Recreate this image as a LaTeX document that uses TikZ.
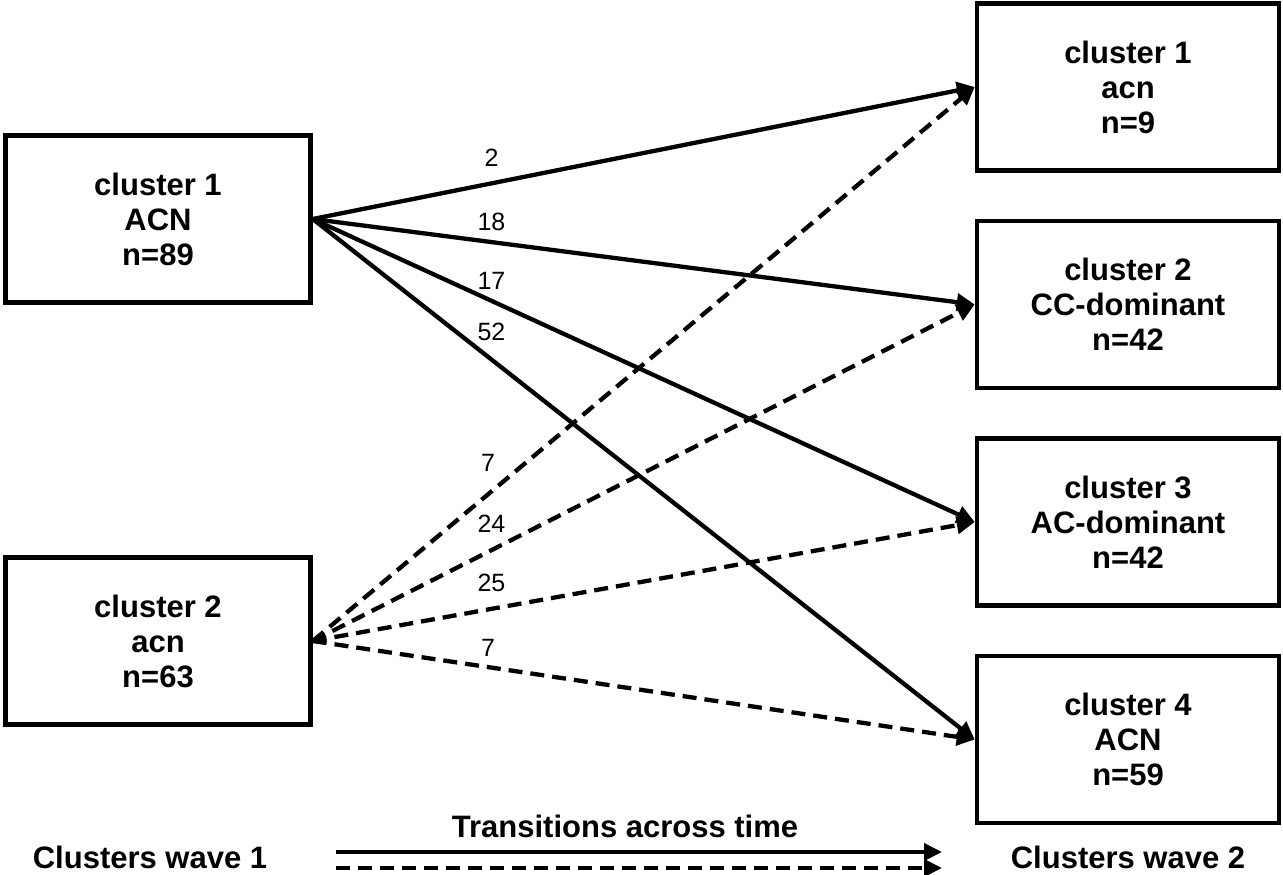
\documentclass[tikz,border=0pt]{standalone}
\usepackage{fontspec}
\setmainfont{Liberation Sans}
\usetikzlibrary{arrows.meta,positioning}
\tikzset{
	clbox/.style={draw,line width=4.5pt,minimum width=302pt,minimum height=167pt,align=center,font=\bfseries\fontsize{31}{35}\selectfont},
	trans/.style={line width=4.3pt,-{Triangle[length=18pt,width=17pt]}},
	transd/.style={trans,dash pattern=on 14pt off 8pt},
	nlbl/.style={font=\fontsize{25}{28}\selectfont,pos=.27},
	wave/.style={font=\bfseries\fontsize{31}{35}\selectfont,inner sep=1pt}
}
\begin{document}
\begin{tikzpicture}[x=1pt,y=-1pt]
	\useasboundingbox (0,0) rectangle (1283,875);
	% clusters wave 1
	\node[clbox,minimum width=305pt] (l1) at (158,219) {cluster 1\\ACN\\n=89};
	\node[clbox,minimum width=305pt] (l2) at (158,641) {cluster 2\\acn\\n=63};
	% clusters wave 2
	\node[clbox] (r1) at (1128,87) {cluster 1\\acn\\n=9};
	\node[clbox,below=46pt of r1] (r2) {cluster 2\\CC-dominant\\n=42};
	\node[clbox,below=46pt of r2] (r3) {cluster 3\\AC-dominant\\n=42};
	\node[clbox,below=46pt of r3] (r4) {cluster 4\\ACN\\n=59};
	% transitions from cluster 1
	\draw[trans] (l1.east) -- (r1.west) node[nlbl,yshift=26pt] {2};
	\draw[trans] (l1.east) -- (r2.west) node[nlbl,yshift=20pt] {18};
	\draw[trans] (l1.east) -- (r3.west) node[nlbl,yshift=20pt] {17};
	\draw[trans] (l1.east) -- (r4.west) node[nlbl,yshift=28pt] {52};
	% transitions from cluster 2
	\draw[transd] (l2.east) -- (r1.west) node[nlbl,pos=.265,yshift=31pt] {7};
	\draw[transd] (l2.east) -- (r2.west) node[nlbl,yshift=26pt] {24};
	\draw[transd] (l2.east) -- (r3.west) node[nlbl,yshift=26pt] {25};
	\draw[transd] (l2.east) -- (r4.west) node[nlbl,pos=.265,yshift=19pt] {7};
	% legend
	\node[wave] (w1) at (150,857) {Clusters wave 1};
	\node[wave] (w2) at (1128,857) {Clusters wave 2};
	\node[wave] (tt) at (625,826) {Transitions across time};
	\coordinate (s1) at (336,852);
	\coordinate (e1) at (942,852);
	\coordinate (s2) at (336,868);
	\coordinate (e2) at (942,868);
	\draw[trans] (s1) -- (e1);
	\draw[transd] (s2) -- (e2);
\end{tikzpicture}
\end{document}
